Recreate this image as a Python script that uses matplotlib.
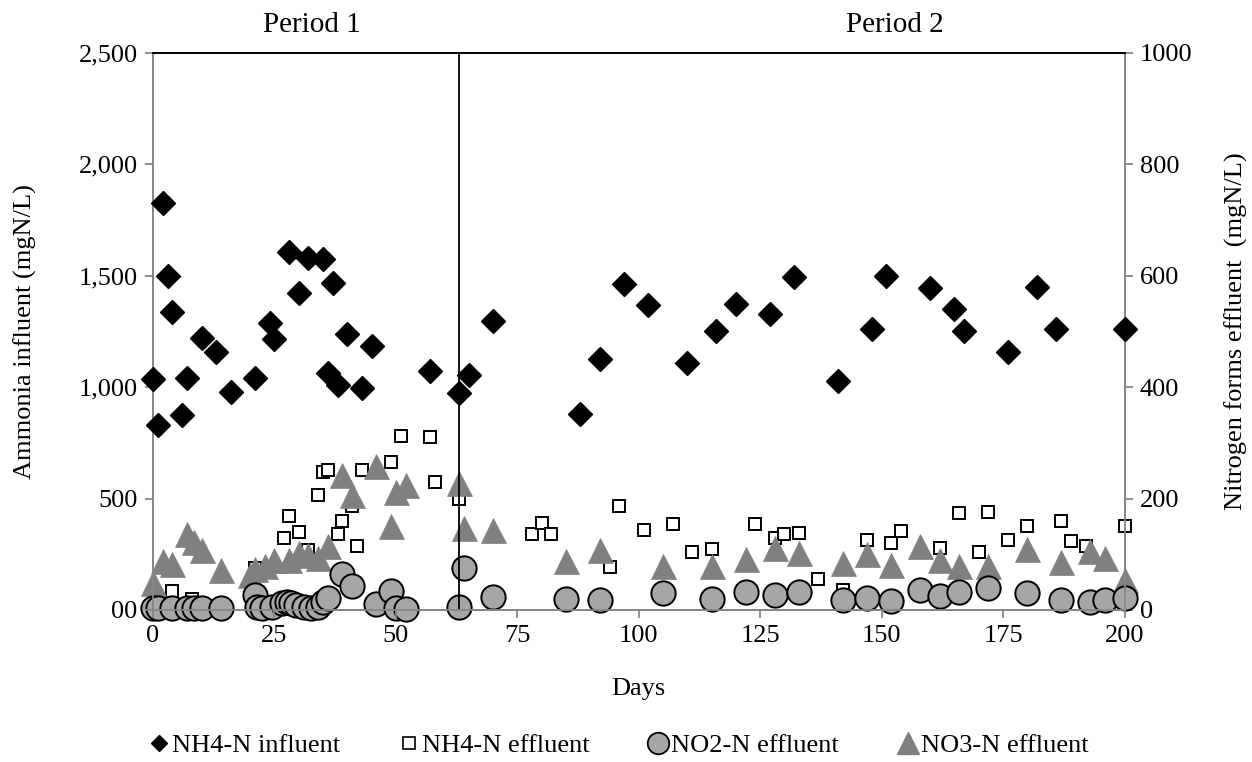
import matplotlib
matplotlib.use("Agg")
import matplotlib.pyplot as plt
from matplotlib.lines import Line2D
from matplotlib.ticker import FixedLocator, FixedFormatter

plt.rcParams['font.family'] = ['Liberation Serif', 'DejaVu Serif']

# NH4-N influent (left axis)
inf_days = [0, 1, 2, 3, 4, 6, 7, 10, 13, 16, 21, 24, 25, 28, 30, 32, 35, 36, 37, 38, 40, 43, 45, 57, 63,
            65, 70, 88, 92, 97, 102, 110, 116, 120, 127, 132, 141, 148, 151, 160, 165, 167, 176, 182, 186, 200]
inf_vals = [1036, 830, 1826, 1500, 1337, 875, 1040, 1222, 1155, 976, 1042, 1289, 1215, 1607, 1423, 1577, 1576, 1062, 1468, 1010, 1237, 995, 1185, 1070, 975,
            1055, 1297, 881, 1127, 1462, 1366, 1110, 1252, 1372, 1327, 1492, 1025, 1260, 1500, 1442, 1350, 1252, 1155, 1447, 1260, 1260]

# NH4-N effluent (right axis)
nh4e_days = [4, 8, 21, 27, 28, 30, 32, 34, 35, 36, 38, 39, 41, 42, 43, 49, 51, 57, 58, 63,
             78, 80, 82, 94, 96, 101, 107, 111, 115, 124, 128, 130, 133, 137, 142, 147, 152, 154, 162, 166, 170, 172, 176, 180, 187, 189, 192, 200]
nh4e_vals = [34, 20, 75, 129, 169, 140, 108, 207, 248, 252, 136, 160, 187, 114, 251, 266, 312, 311, 229, 200,
             136, 156, 136, 77, 186, 144, 155, 104, 109, 155, 129, 137, 139, 55, 36, 126, 121, 142, 111, 174, 104, 175, 125, 150, 160, 124, 114, 150]

# NO2-N effluent (right axis)
no2_days = [0, 1, 4, 7, 8.5, 10, 14, 21, 21.5, 22.5, 24.5, 26.5, 27.5, 28.5, 29.5, 31, 32.5, 34, 35, 36, 39, 41, 46, 49, 50, 52, 63, 64,
            70, 85, 92, 105, 115, 122, 128, 133, 142, 147, 152, 158, 162, 166, 172, 180, 187, 193, 196, 200]
no2_vals = [3, 4, 3, 3, 4, 3, 3, 27, 6, 3, 5, 12, 14, 12, 9, 5, 3, 6, 14, 22, 64, 43, 10, 34, 4, 2, 6, 76,
            24, 19, 18, 30, 19, 33, 27, 33, 18, 22, 16, 36, 26, 33, 39, 31, 18, 15, 18, 22]

# NO3-N effluent (right axis)
no3_days = [0, 2, 4, 7, 8.5, 10, 14, 20, 21, 23, 25, 28, 30, 32, 34, 36, 39, 41, 46, 49, 50, 52, 63, 64,
            70, 85, 92, 105, 115, 122, 128, 133, 142, 147, 152, 158, 162, 166, 172, 180, 187, 193, 196, 200]
no3_vals = [48, 88, 83, 137, 122, 107, 71, 62, 73, 79, 90, 89, 102, 98, 94, 115, 242, 207, 258, 150, 212, 225, 228, 148,
            144, 88, 108, 79, 79, 91, 111, 102, 85, 101, 81, 115, 90, 79, 79, 109, 87, 105, 93, 54]

left_ticks = [0, 500, 1000, 1500, 2000, 2500]
left_labels = ["00", "500", "1,000", "1,500", "2,000", "2,500"]
right_ticks = [0, 200, 400, 600, 800, 1000]
x_ticks = [0, 25, 50, 75, 100, 125, 150, 175, 200]
period_split = 63

GRAY = '#868686'
FS = 19

fig = plt.figure(figsize=(12.52, 7.62), dpi=100)
ax = fig.add_axes([153 / 1252, 1 - 610 / 762, (1124.5 - 153) / 1252, (610 - 52.6) / 762])
ax2 = ax.twinx()

ax.set_xlim(0, 200)
ax.set_ylim(0, 2500)
ax2.set_ylim(0, 1000)

ax2.plot(nh4e_days, nh4e_vals, ls='none', marker='s', ms=9, mfc='white', mec='black', mew=1.4,
         zorder=3, clip_on=False)
ax2.plot(no3_days, no3_vals, ls='none', marker='^', ms=18, mfc='#808080', mec='#808080', mew=0.5,
         zorder=4, clip_on=False)
ax2.plot(no2_days, no2_vals, ls='none', marker='o', ms=17.5, mfc='#A6A6A6', mec='black', mew=1.4,
         zorder=5, clip_on=False)

ax.set_zorder(ax2.get_zorder() + 1)
ax.patch.set_visible(False)
ax.plot(inf_days, inf_vals, ls='none', marker='D', ms=12, mfc='black', mec='black',
        zorder=6, clip_on=False)
ax.axvline(period_split, color='black', lw=1.3, zorder=1)

for a in (ax, ax2):
    for s in ('left', 'right', 'bottom'):
        a.spines[s].set_color(GRAY)
        a.spines[s].set_linewidth(1.3)
    a.spines['top'].set_color('black')
    a.spines['top'].set_linewidth(1.3)

ax.yaxis.set_major_locator(FixedLocator(left_ticks))
ax.yaxis.set_major_formatter(FixedFormatter(left_labels))
ax2.set_yticks(right_ticks)
ax.set_xticks(x_ticks)
ax.tick_params(axis='both', direction='out', length=6, width=1.3, color=GRAY, labelsize=FS, pad=5)
ax2.tick_params(axis='y', direction='out', length=6, width=1.3, color=GRAY, labelsize=FS, pad=5)

ax.set_xlabel('Days', fontsize=FS, labelpad=22)
ax.set_ylabel('Ammonia influent (mgN/L)', fontsize=FS, labelpad=30)
ax2.set_ylabel('Nitrogen forms effluent  (mgN/L)', fontsize=FS, labelpad=23)

fig.text(311.7 / 1252, 1 - 25.5 / 762, 'Period 1', fontsize=21, ha='center', va='center')
fig.text(895 / 1252, 1 - 25.5 / 762, 'Period 2', fontsize=21, ha='center', va='center')

handles = [
    Line2D([], [], ls='none', marker='D', ms=8, mfc='black', mec='black'),
    Line2D([], [], ls='none', marker='s', ms=9, mfc='white', mec='black', mew=1.2),
    Line2D([], [], ls='none', marker='o', ms=15.5, mfc='#A6A6A6', mec='black', mew=1.3),
    Line2D([], [], ls='none', marker='^', ms=15.5, mfc='#808080', mec='#808080'),
]
labels = ['NH4-N influent', 'NH4-N effluent', 'NO2-N effluent', 'NO3-N effluent']
fig.legend(handles, labels, loc='center', bbox_to_anchor=(0.494, 1 - 745 / 762), ncol=4,
           frameon=False, fontsize=FS, handlelength=0.8, handletextpad=0.1, columnspacing=2.2,
           borderpad=0, borderaxespad=0)

fig.savefig('out.png', dpi=100)
